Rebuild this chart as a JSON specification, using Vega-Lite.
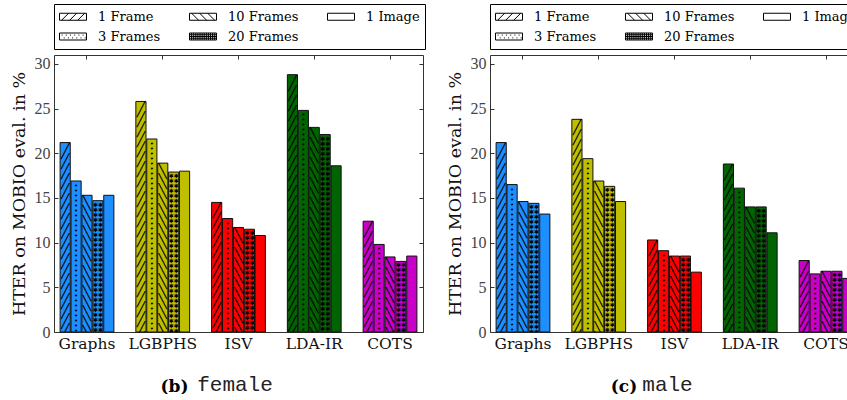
{
  "$schema": "https://vega.github.io/schema/vega-lite/v6.json",
  "background": "white",
  "padding": {"left": 9, "top": 3, "right": 0, "bottom": 0},
  "config": {"view": {"stroke": null}, "font": "DejaVu Serif", "legend": {"labelFont": "DejaVu Serif"}},
  "datasets": {
    "hter": [
      {"Panel": "female", "Method": "Graphs", "Series": "1 Frame", "HTER": 21.2},
      {"Panel": "female", "Method": "Graphs", "Series": "3 Frames", "HTER": 16.9},
      {"Panel": "female", "Method": "Graphs", "Series": "10 Frames", "HTER": 15.3},
      {"Panel": "female", "Method": "Graphs", "Series": "20 Frames", "HTER": 14.7},
      {"Panel": "female", "Method": "Graphs", "Series": "1 Image", "HTER": 15.3},
      {"Panel": "female", "Method": "LGBPHS", "Series": "1 Frame", "HTER": 25.8},
      {"Panel": "female", "Method": "LGBPHS", "Series": "3 Frames", "HTER": 21.6},
      {"Panel": "female", "Method": "LGBPHS", "Series": "10 Frames", "HTER": 18.9},
      {"Panel": "female", "Method": "LGBPHS", "Series": "20 Frames", "HTER": 17.9},
      {"Panel": "female", "Method": "LGBPHS", "Series": "1 Image", "HTER": 18.0},
      {"Panel": "female", "Method": "ISV", "Series": "1 Frame", "HTER": 14.5},
      {"Panel": "female", "Method": "ISV", "Series": "3 Frames", "HTER": 12.7},
      {"Panel": "female", "Method": "ISV", "Series": "10 Frames", "HTER": 11.7},
      {"Panel": "female", "Method": "ISV", "Series": "20 Frames", "HTER": 11.5},
      {"Panel": "female", "Method": "ISV", "Series": "1 Image", "HTER": 10.8},
      {"Panel": "female", "Method": "LDA-IR", "Series": "1 Frame", "HTER": 28.8},
      {"Panel": "female", "Method": "LDA-IR", "Series": "3 Frames", "HTER": 24.8},
      {"Panel": "female", "Method": "LDA-IR", "Series": "10 Frames", "HTER": 22.9},
      {"Panel": "female", "Method": "LDA-IR", "Series": "20 Frames", "HTER": 22.1},
      {"Panel": "female", "Method": "LDA-IR", "Series": "1 Image", "HTER": 18.6},
      {"Panel": "female", "Method": "COTS", "Series": "1 Frame", "HTER": 12.4},
      {"Panel": "female", "Method": "COTS", "Series": "3 Frames", "HTER": 9.8},
      {"Panel": "female", "Method": "COTS", "Series": "10 Frames", "HTER": 8.4},
      {"Panel": "female", "Method": "COTS", "Series": "20 Frames", "HTER": 7.9},
      {"Panel": "female", "Method": "COTS", "Series": "1 Image", "HTER": 8.5},
      {"Panel": "male", "Method": "Graphs", "Series": "1 Frame", "HTER": 21.2},
      {"Panel": "male", "Method": "Graphs", "Series": "3 Frames", "HTER": 16.5},
      {"Panel": "male", "Method": "Graphs", "Series": "10 Frames", "HTER": 14.6},
      {"Panel": "male", "Method": "Graphs", "Series": "20 Frames", "HTER": 14.4},
      {"Panel": "male", "Method": "Graphs", "Series": "1 Image", "HTER": 13.2},
      {"Panel": "male", "Method": "LGBPHS", "Series": "1 Frame", "HTER": 23.8},
      {"Panel": "male", "Method": "LGBPHS", "Series": "3 Frames", "HTER": 19.4},
      {"Panel": "male", "Method": "LGBPHS", "Series": "10 Frames", "HTER": 16.9},
      {"Panel": "male", "Method": "LGBPHS", "Series": "20 Frames", "HTER": 16.3},
      {"Panel": "male", "Method": "LGBPHS", "Series": "1 Image", "HTER": 14.6},
      {"Panel": "male", "Method": "ISV", "Series": "1 Frame", "HTER": 10.3},
      {"Panel": "male", "Method": "ISV", "Series": "3 Frames", "HTER": 9.1},
      {"Panel": "male", "Method": "ISV", "Series": "10 Frames", "HTER": 8.5},
      {"Panel": "male", "Method": "ISV", "Series": "20 Frames", "HTER": 8.5},
      {"Panel": "male", "Method": "ISV", "Series": "1 Image", "HTER": 6.7},
      {"Panel": "male", "Method": "LDA-IR", "Series": "1 Frame", "HTER": 18.8},
      {"Panel": "male", "Method": "LDA-IR", "Series": "3 Frames", "HTER": 16.1},
      {"Panel": "male", "Method": "LDA-IR", "Series": "10 Frames", "HTER": 14.0},
      {"Panel": "male", "Method": "LDA-IR", "Series": "20 Frames", "HTER": 14.0},
      {"Panel": "male", "Method": "LDA-IR", "Series": "1 Image", "HTER": 11.1},
      {"Panel": "male", "Method": "COTS", "Series": "1 Frame", "HTER": 8.0},
      {"Panel": "male", "Method": "COTS", "Series": "3 Frames", "HTER": 6.5},
      {"Panel": "male", "Method": "COTS", "Series": "10 Frames", "HTER": 6.8},
      {"Panel": "male", "Method": "COTS", "Series": "20 Frames", "HTER": 6.8},
      {"Panel": "male", "Method": "COTS", "Series": "1 Image", "HTER": 6.0}
    ]
  },
  "spacing": 19,
  "resolve": {"scale": {"shape": "independent"}, "legend": {"shape": "independent"}},
  "hconcat": [
    {
      "width": 369,
      "height": 277,
      "data": {"name": "hter"},
      "transform": [{"filter": "datum.Panel === 'female'"}],
      "resolve": {"axis": {"x": "independent", "y": "independent"}},
      "encoding": {
        "x": {"field": "Method", "type": "nominal", "sort": ["Graphs", "LGBPHS", "ISV", "LDA-IR", "COTS"], "scale": {"paddingInner": 0.29, "paddingOuter": 0.0806}, "axis": null},
        "xOffset": {"field": "Series", "type": "nominal", "sort": ["1 Frame", "3 Frames", "10 Frames", "20 Frames", "1 Image"], "scale": {"domain": ["1 Frame", "3 Frames", "10 Frames", "20 Frames", "1 Image"], "paddingInner": 0.07, "paddingOuter": 0}},
        "y": {"field": "HTER", "type": "quantitative", "scale": {"domain": [0, 31], "nice": false, "zero": true}, "axis": null}
      },
      "layer": [
        {
          "mark": {"type": "bar", "stroke": "#111", "strokeWidth": 1},
          "encoding": {
            "x": {"field": "Method", "type": "nominal", "sort": ["Graphs", "LGBPHS", "ISV", "LDA-IR", "COTS"], "scale": {"paddingInner": 0.29, "paddingOuter": 0.0806},
              "axis": {"orient": "bottom", "title": "female", "titleFont": "Liberation Mono", "titleFontSize": 21, "titleFontWeight": "normal", "titleColor": "#222", "titleX": 180.5, "titleY": 58, "titleAlign": "center", "titleBaseline": "alphabetic", "labelFont": "DejaVu Serif", "labelFontSize": 15.5, "labelColor": "#111", "labelAngle": 0, "labelPadding": 8, "tickSize": -4, "domainColor": "#333", "tickColor": "#333", "grid": false}},
            "y": {"field": "HTER", "type": "quantitative", "scale": {"domain": [0, 31], "nice": false, "zero": true},
              "axis": {"orient": "left", "values": [0, 5, 10, 15, 20, 25, 30], "title": "HTER on MOBIO eval. in %", "titleFont": "DejaVu Serif", "titleFontSize": 17.5, "titleFontWeight": "normal", "titleColor": "#111", "titlePadding": 6, "labelFont": "Liberation Serif", "labelFontSize": 16, "labelColor": "#444", "labelPadding": 8, "tickSize": -4, "grid": false, "domainColor": "#333", "tickColor": "#333"}},
            "color": {"field": "Method", "type": "nominal", "scale": {"domain": ["Graphs", "LGBPHS", "ISV", "LDA-IR", "COTS"], "range": ["#1E8FFF", "#BFBF00", "#FF0000", "#006400", "#C800C8"]}, "legend": null}
          }
        },
        {
          "transform": [{"filter": "datum.Series === '1 Frame'"}],
          "mark": {"type": "text", "clip": true, "font": "DejaVu Sans Mono", "fontSize": 14, "lineHeight": 10, "baseline": "top", "align": "center", "dy": 2, "color": "#000",
            "text": ["╱","╱","╱","╱","╱","╱","╱","╱","╱","╱","╱","╱","╱","╱","╱","╱","╱","╱","╱","╱","╱","╱","╱","╱","╱","╱","╱","╱","╱","╱"]}
        },
        {
          "transform": [{"filter": "datum.Series === '10 Frames'"}],
          "mark": {"type": "text", "clip": true, "font": "DejaVu Sans Mono", "fontSize": 14, "lineHeight": 10, "baseline": "top", "align": "center", "dy": 2, "color": "#000",
            "text": ["╲","╲","╲","╲","╲","╲","╲","╲","╲","╲","╲","╲","╲","╲","╲","╲","╲","╲","╲","╲","╲","╲","╲","╲","╲","╲","╲","╲","╲","╲"]}
        },
        {
          "transform": [{"filter": "datum.Series === '3 Frames'"}],
          "mark": {"type": "text", "clip": true, "font": "DejaVu Sans Mono", "fontSize": 7, "lineHeight": 5, "baseline": "top", "align": "center", "dy": 1, "color": "#000",
            "text": ["• "," •","• "," •","• "," •","• "," •","• "," •","• "," •","• "," •","• "," •","• "," •","• "," •","• "," •","• "," •","• "," •","• "," •","• "," •","• "," •","• "," •","• "," •","• "," •","• "," •","• "," •","• "," •","• "," •","• "," •","• "," •","• "," •","• "," •","• "," •","• "," •","• "," •","• "," •","• "," •","• "," •"]}
        },
        {
          "transform": [{"filter": "datum.Series === '20 Frames'"}],
          "mark": {"type": "text", "clip": true, "font": "DejaVu Sans", "fontSize": 6, "lineHeight": 5, "baseline": "top", "align": "center", "dy": 1, "color": "#000",
            "text": ["✱✱","✱✱","✱✱","✱✱","✱✱","✱✱","✱✱","✱✱","✱✱","✱✱","✱✱","✱✱","✱✱","✱✱","✱✱","✱✱","✱✱","✱✱","✱✱","✱✱","✱✱","✱✱","✱✱","✱✱","✱✱","✱✱","✱✱","✱✱","✱✱","✱✱","✱✱","✱✱","✱✱","✱✱","✱✱","✱✱","✱✱","✱✱","✱✱","✱✱","✱✱","✱✱","✱✱","✱✱","✱✱","✱✱","✱✱","✱✱","✱✱","✱✱","✱✱","✱✱","✱✱","✱✱","✱✱","✱✱","✱✱","✱✱","✱✱","✱✱"]}
        },
        {
          "mark": {"type": "point", "opacity": 0, "filled": false, "color": "black", "strokeWidth": 1},
          "encoding": {
            "x": {"field": "Method", "type": "nominal", "sort": ["Graphs", "LGBPHS", "ISV", "LDA-IR", "COTS"], "scale": {"paddingInner": 0.29, "paddingOuter": 0.0806},
              "axis": {"orient": "top", "labels": false, "tickSize": -4, "domainColor": "#333", "tickColor": "#333", "grid": false, "title": "(b)", "titleFont": "DejaVu Serif", "titleFontSize": 17, "titleFontWeight": "bold", "titleColor": "#000", "titleX": 120, "titleY": 336, "titleAlign": "center", "titleBaseline": "alphabetic"}},
            "y": {"field": "HTER", "type": "quantitative", "scale": {"domain": [0, 31], "nice": false, "zero": true},
              "axis": {"orient": "right", "labels": false, "values": [0, 5, 10, 15, 20, 25, 30], "tickSize": -4, "title": null, "grid": false, "domainColor": "#333", "tickColor": "#333"}},
            "shape": {"field": "Series", "type": "nominal",
              "scale": {"domain": ["1 Frame", "3 Frames", "10 Frames", "20 Frames", "1 Image"],
                "range": [
                  "M-1,-0.5H2.857V0.5H-1Z M-0.7,0.5L0.3,-0.5 M0.45,0.5L1.45,-0.5 M1.6,0.5L2.6,-0.5",
                  "M-1,-0.5H2.857V0.5H-1Z M-0.7,-0.2h0.14 M-0.1,-0.2h0.14 M0.5,-0.2h0.14 M1.1,-0.2h0.14 M1.7,-0.2h0.14 M2.3,-0.2h0.14 M-0.4,0.2h0.14 M0.2,0.2h0.14 M0.8,0.2h0.14 M1.4,0.2h0.14 M2,0.2h0.14 M2.6,0.2h0.14",
                  "M-1,-0.5H2.857V0.5H-1Z M-0.7,-0.5L0.3,0.5 M0.45,-0.5L1.45,0.5 M1.6,-0.5L2.6,0.5",
                  "M-1,-0.5H2.857V0.5H-1Z M-1,-0.25H2.857 M-1,0H2.857 M-1,0.25H2.857 M-0.7,-0.5V0.5 M-0.4,-0.5V0.5 M-0.1,-0.5V0.5 M0.2,-0.5V0.5 M0.5,-0.5V0.5 M0.8,-0.5V0.5 M1.1,-0.5V0.5 M1.4,-0.5V0.5 M1.7,-0.5V0.5 M2,-0.5V0.5 M2.3,-0.5V0.5 M2.6,-0.5V0.5",
                  "M-1,-0.5H2.857V0.5H-1Z"
                ]},
              "legend": {"title": null, "orient": "top", "direction": "horizontal", "columns": 3, "values": ["1 Frame", "10 Frames", "1 Image", "3 Frames", "20 Frames"], "symbolSize": 196, "symbolOpacity": 1, "symbolFillColor": "transparent", "symbolStrokeColor": "black", "symbolStrokeWidth": 1, "labelFont": "DejaVu Serif", "labelFontSize": 13, "labelColor": "#000", "labelOffset": 24, "columnPadding": 26, "rowPadding": 5, "strokeColor": "#000", "padding": 5, "offset": 5}
            }
          }
        }
      ]
    },
    {
      "width": 369,
      "height": 277,
      "data": {"name": "hter"},
      "transform": [{"filter": "datum.Panel === 'male'"}],
      "resolve": {"axis": {"x": "independent", "y": "independent"}},
      "encoding": {
        "x": {"field": "Method", "type": "nominal", "sort": ["Graphs", "LGBPHS", "ISV", "LDA-IR", "COTS"], "scale": {"paddingInner": 0.29, "paddingOuter": 0.0806}, "axis": null},
        "xOffset": {"field": "Series", "type": "nominal", "sort": ["1 Frame", "3 Frames", "10 Frames", "20 Frames", "1 Image"], "scale": {"domain": ["1 Frame", "3 Frames", "10 Frames", "20 Frames", "1 Image"], "paddingInner": 0.07, "paddingOuter": 0}},
        "y": {"field": "HTER", "type": "quantitative", "scale": {"domain": [0, 31], "nice": false, "zero": true}, "axis": null}
      },
      "layer": [
        {
          "mark": {"type": "bar", "stroke": "#111", "strokeWidth": 1},
          "encoding": {
            "x": {"field": "Method", "type": "nominal", "sort": ["Graphs", "LGBPHS", "ISV", "LDA-IR", "COTS"], "scale": {"paddingInner": 0.29, "paddingOuter": 0.0806},
              "axis": {"orient": "bottom", "title": "male", "titleFont": "Liberation Mono", "titleFontSize": 21, "titleFontWeight": "normal", "titleColor": "#222", "titleX": 177, "titleY": 58, "titleAlign": "center", "titleBaseline": "alphabetic", "labelFont": "DejaVu Serif", "labelFontSize": 15.5, "labelColor": "#111", "labelAngle": 0, "labelPadding": 8, "tickSize": -4, "domainColor": "#333", "tickColor": "#333", "grid": false}},
            "y": {"field": "HTER", "type": "quantitative", "scale": {"domain": [0, 31], "nice": false, "zero": true},
              "axis": {"orient": "left", "values": [0, 5, 10, 15, 20, 25, 30], "title": "HTER on MOBIO eval. in %", "titleFont": "DejaVu Serif", "titleFontSize": 17.5, "titleFontWeight": "normal", "titleColor": "#111", "titlePadding": 6, "labelFont": "Liberation Serif", "labelFontSize": 16, "labelColor": "#444", "labelPadding": 8, "tickSize": -4, "grid": false, "domainColor": "#333", "tickColor": "#333"}},
            "color": {"field": "Method", "type": "nominal", "scale": {"domain": ["Graphs", "LGBPHS", "ISV", "LDA-IR", "COTS"], "range": ["#1E8FFF", "#BFBF00", "#FF0000", "#006400", "#C800C8"]}, "legend": null}
          }
        },
        {
          "transform": [{"filter": "datum.Series === '1 Frame'"}],
          "mark": {"type": "text", "clip": true, "font": "DejaVu Sans Mono", "fontSize": 14, "lineHeight": 10, "baseline": "top", "align": "center", "dy": 2, "color": "#000",
            "text": ["╱","╱","╱","╱","╱","╱","╱","╱","╱","╱","╱","╱","╱","╱","╱","╱","╱","╱","╱","╱","╱","╱","╱","╱","╱","╱","╱","╱","╱","╱"]}
        },
        {
          "transform": [{"filter": "datum.Series === '10 Frames'"}],
          "mark": {"type": "text", "clip": true, "font": "DejaVu Sans Mono", "fontSize": 14, "lineHeight": 10, "baseline": "top", "align": "center", "dy": 2, "color": "#000",
            "text": ["╲","╲","╲","╲","╲","╲","╲","╲","╲","╲","╲","╲","╲","╲","╲","╲","╲","╲","╲","╲","╲","╲","╲","╲","╲","╲","╲","╲","╲","╲"]}
        },
        {
          "transform": [{"filter": "datum.Series === '3 Frames'"}],
          "mark": {"type": "text", "clip": true, "font": "DejaVu Sans Mono", "fontSize": 7, "lineHeight": 5, "baseline": "top", "align": "center", "dy": 1, "color": "#000",
            "text": ["• "," •","• "," •","• "," •","• "," •","• "," •","• "," •","• "," •","• "," •","• "," •","• "," •","• "," •","• "," •","• "," •","• "," •","• "," •","• "," •","• "," •","• "," •","• "," •","• "," •","• "," •","• "," •","• "," •","• "," •","• "," •","• "," •","• "," •","• "," •","• "," •","• "," •","• "," •","• "," •","• "," •","• "," •"]}
        },
        {
          "transform": [{"filter": "datum.Series === '20 Frames'"}],
          "mark": {"type": "text", "clip": true, "font": "DejaVu Sans", "fontSize": 6, "lineHeight": 5, "baseline": "top", "align": "center", "dy": 1, "color": "#000",
            "text": ["✱✱","✱✱","✱✱","✱✱","✱✱","✱✱","✱✱","✱✱","✱✱","✱✱","✱✱","✱✱","✱✱","✱✱","✱✱","✱✱","✱✱","✱✱","✱✱","✱✱","✱✱","✱✱","✱✱","✱✱","✱✱","✱✱","✱✱","✱✱","✱✱","✱✱","✱✱","✱✱","✱✱","✱✱","✱✱","✱✱","✱✱","✱✱","✱✱","✱✱","✱✱","✱✱","✱✱","✱✱","✱✱","✱✱","✱✱","✱✱","✱✱","✱✱","✱✱","✱✱","✱✱","✱✱","✱✱","✱✱","✱✱","✱✱","✱✱","✱✱"]}
        },
        {
          "mark": {"type": "point", "opacity": 0, "filled": false, "color": "black", "strokeWidth": 1},
          "encoding": {
            "x": {"field": "Method", "type": "nominal", "sort": ["Graphs", "LGBPHS", "ISV", "LDA-IR", "COTS"], "scale": {"paddingInner": 0.29, "paddingOuter": 0.0806},
              "axis": {"orient": "top", "labels": false, "tickSize": -4, "domainColor": "#333", "tickColor": "#333", "grid": false, "title": "(c)", "titleFont": "DejaVu Serif", "titleFontSize": 17, "titleFontWeight": "bold", "titleColor": "#000", "titleX": 133.5, "titleY": 336, "titleAlign": "center", "titleBaseline": "alphabetic"}},
            "y": {"field": "HTER", "type": "quantitative", "scale": {"domain": [0, 31], "nice": false, "zero": true},
              "axis": {"orient": "right", "labels": false, "values": [0, 5, 10, 15, 20, 25, 30], "tickSize": -4, "title": null, "grid": false, "domainColor": "#333", "tickColor": "#333"}},
            "shape": {"field": "Series", "type": "nominal",
              "scale": {"domain": ["1 Frame", "3 Frames", "10 Frames", "20 Frames", "1 Image"],
                "range": [
                  "M-1,-0.5H2.857V0.5H-1Z M-0.7,0.5L0.3,-0.5 M0.45,0.5L1.45,-0.5 M1.6,0.5L2.6,-0.5",
                  "M-1,-0.5H2.857V0.5H-1Z M-0.7,-0.2h0.14 M-0.1,-0.2h0.14 M0.5,-0.2h0.14 M1.1,-0.2h0.14 M1.7,-0.2h0.14 M2.3,-0.2h0.14 M-0.4,0.2h0.14 M0.2,0.2h0.14 M0.8,0.2h0.14 M1.4,0.2h0.14 M2,0.2h0.14 M2.6,0.2h0.14",
                  "M-1,-0.5H2.857V0.5H-1Z M-0.7,-0.5L0.3,0.5 M0.45,-0.5L1.45,0.5 M1.6,-0.5L2.6,0.5",
                  "M-1,-0.5H2.857V0.5H-1Z M-1,-0.25H2.857 M-1,0H2.857 M-1,0.25H2.857 M-0.7,-0.5V0.5 M-0.4,-0.5V0.5 M-0.1,-0.5V0.5 M0.2,-0.5V0.5 M0.5,-0.5V0.5 M0.8,-0.5V0.5 M1.1,-0.5V0.5 M1.4,-0.5V0.5 M1.7,-0.5V0.5 M2,-0.5V0.5 M2.3,-0.5V0.5 M2.6,-0.5V0.5",
                  "M-1,-0.5H2.857V0.5H-1Z"
                ]},
              "legend": {"title": null, "orient": "top", "direction": "horizontal", "columns": 3, "values": ["1 Frame", "10 Frames", "1 Image", "3 Frames", "20 Frames"], "symbolSize": 196, "symbolOpacity": 1, "symbolFillColor": "transparent", "symbolStrokeColor": "black", "symbolStrokeWidth": 1, "labelFont": "DejaVu Serif", "labelFontSize": 13, "labelColor": "#000", "labelOffset": 24, "columnPadding": 26, "rowPadding": 5, "strokeColor": "#000", "padding": 5, "offset": 5}
            }
          }
        }
      ]
    }
  ]
}
